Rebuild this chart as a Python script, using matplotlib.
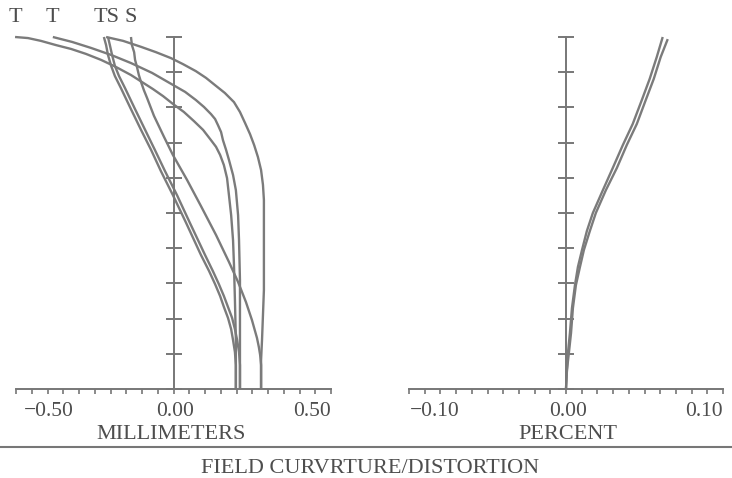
import matplotlib
matplotlib.use("Agg")
import matplotlib.pyplot as plt
from matplotlib.transforms import offset_copy
from matplotlib.lines import Line2D
import numpy as np

# ---------------- data ----------------
# Field curvature, millimeters (x) vs. relative field (y), top -> bottom
ta_x = [-0.503, -0.462, -0.421, -0.373, -0.325, -0.278, -0.230, -0.183, -0.135, -0.100, -0.065, -0.033,
        -0.002, 0.033, 0.065, 0.094, 0.119, 0.135, 0.148, 0.160, 0.170, 0.176, 0.183, 0.189, 0.192, 0.195,
        0.198, 0.198]
ta_y = [1.000, 0.997, 0.989, 0.977, 0.966, 0.952, 0.935, 0.915, 0.892, 0.872, 0.852, 0.832,
        0.810, 0.787, 0.761, 0.736, 0.707, 0.688, 0.665, 0.636, 0.599, 0.551, 0.494, 0.423, 0.352, 0.253,
        0.139, 0.000]

tb_x = [-0.383, -0.322, -0.262, -0.198, -0.135, -0.068, -0.002, 0.037, 0.071, 0.097, 0.119, 0.132,
        0.141, 0.151, 0.157, 0.167, 0.176, 0.189, 0.198, 0.205, 0.208, 0.211, 0.211]
tb_y = [1.000, 0.986, 0.969, 0.949, 0.926, 0.898, 0.864, 0.844, 0.821, 0.801, 0.781, 0.767,
        0.750, 0.730, 0.707, 0.679, 0.651, 0.608, 0.565, 0.494, 0.423, 0.310, 0.000]

tc_x = [-0.214, -0.160, -0.103, -0.056, -0.008, 0.030, 0.071, 0.103, 0.135, 0.163, 0.192, 0.211,
        0.227, 0.243, 0.256, 0.268, 0.278, 0.284, 0.287, 0.287, 0.287, 0.287, 0.284, 0.281, 0.278, 0.278]
tc_y = [1.000, 0.989, 0.972, 0.957, 0.940, 0.923, 0.903, 0.884, 0.861, 0.841, 0.815, 0.787,
        0.756, 0.724, 0.693, 0.659, 0.622, 0.580, 0.537, 0.480, 0.366, 0.281, 0.210, 0.139, 0.082, 0.000]

sa_x = [-0.221, -0.214, -0.208, -0.198, -0.186, -0.167, -0.135, -0.103, -0.071, -0.040, -0.002, 0.040,
        0.087, 0.113, 0.132, 0.148, 0.160, 0.173, 0.183, 0.189, 0.195, 0.198, 0.198]
sa_y = [1.000, 0.977, 0.949, 0.918, 0.889, 0.855, 0.795, 0.736, 0.679, 0.619, 0.551, 0.472,
        0.381, 0.335, 0.298, 0.264, 0.233, 0.202, 0.170, 0.139, 0.105, 0.068, 0.000]

sb_x = [-0.208, -0.202, -0.195, -0.186, -0.173, -0.154, -0.122, -0.090, -0.059, -0.027, 0.011, 0.052,
        0.100, 0.125, 0.144, 0.160, 0.173, 0.186, 0.195, 0.202, 0.208, 0.211, 0.211]
sb_y = [1.000, 0.977, 0.949, 0.918, 0.889, 0.855, 0.795, 0.736, 0.679, 0.619, 0.551, 0.472,
        0.381, 0.335, 0.298, 0.264, 0.233, 0.202, 0.170, 0.139, 0.105, 0.068, 0.000]

sc_x = [-0.135, -0.132, -0.125, -0.122, -0.116, -0.110, -0.103, -0.094, -0.084, -0.062, -0.030, -0.002,
        0.043, 0.087, 0.135, 0.176, 0.205, 0.230, 0.249, 0.265, 0.271, 0.275, 0.278, 0.278]
sc_y = [1.000, 0.977, 0.957, 0.935, 0.915, 0.892, 0.872, 0.849, 0.827, 0.776, 0.716, 0.665,
        0.594, 0.520, 0.4375, 0.361, 0.304, 0.247, 0.196, 0.145, 0.119, 0.097, 0.068, 0.000]

# Distortion, percent (x) vs. relative field (y)
d1_x = [0.0, 0.0006, 0.0013, 0.0025, 0.0038, 0.0057, 0.0076, 0.0102, 0.0133, 0.0171, 0.0235, 0.0298,
        0.0362, 0.0425, 0.0483, 0.0533, 0.0578, 0.0616]
d1_y = [0.0, 0.054, 0.105, 0.159, 0.230, 0.295, 0.347, 0.395, 0.449, 0.500, 0.565, 0.628,
        0.693, 0.753, 0.821, 0.881, 0.943, 1.000]
d2_x = [0.0, 0.0006, 0.0019, 0.0032, 0.0044, 0.0063, 0.0089, 0.0114, 0.0152, 0.0190, 0.0254, 0.0324,
        0.0387, 0.0451, 0.0508, 0.0559, 0.0603, 0.0648]
d2_y = [0.0, 0.054, 0.105, 0.159, 0.230, 0.295, 0.347, 0.395, 0.449, 0.500, 0.565, 0.628,
        0.693, 0.753, 0.821, 0.881, 0.943, 0.994]

fc_ticklabels = ["\u22120.50", "0.00", "0.50"]
fc_tickvals = [-0.50, 0.00, 0.50]
dist_ticklabels = ["\u22120.10", "0.00", "0.10"]
dist_tickvals = [-0.10, 0.00, 0.10]
top_labels = ["T", "T", "TS", "S"]
fc_xlabel = "MILLIMETERS"
dist_xlabel = "PERCENT"
title = "FIELD CURVRTURE/DISTORTION"

# ---------------- style ----------------
plt.rcParams["font.family"] = ["Liberation Serif", "DejaVu Serif"]
line_c = "#7b7b7b"
axis_c = "#777777"
text_c = "#4e4e4e"
W, H = 732, 478

fig = plt.figure(figsize=(W / 100, H / 100), dpi=100)
fig.patch.set_facecolor("white")

ax1 = fig.add_axes([16 / W, 89 / H, 315 / W, 352 / H])
ax2 = fig.add_axes([409 / W, 89 / H, 314 / W, 352 / H])


def style_axis(ax, xlim, step):
    ax.set_xlim(*xlim)
    ax.set_ylim(0, 1)
    ax.patch.set_alpha(0)
    for s in ["top", "right"]:
        ax.spines[s].set_visible(False)
    ax.spines["left"].set_position(("data", 0))
    ax.spines["left"].set_bounds(0, 1)
    ax.spines["bottom"].set_bounds(*xlim)
    for s in ["left", "bottom"]:
        ax.spines[s].set_color(axis_c)
        ax.spines[s].set_linewidth(1.4)
    ax.set_yticks(np.linspace(0, 1, 11))
    n = int(round((xlim[1] - xlim[0]) / step))
    ax.set_xticks(np.linspace(xlim[0], xlim[1], n + 1))
    ax.tick_params(axis="y", direction="inout", length=11, width=1.4,
                   colors=axis_c, labelleft=False)
    ax.tick_params(axis="x", direction="out", length=3.8, width=1.2,
                   colors=axis_c, labelbottom=False)


style_axis(ax1, (-0.5, 0.5), 0.05)
style_axis(ax2, (-0.1, 0.1), 0.01)

lw = 1.7
for xs, ys in [(ta_x, ta_y), (tb_x, tb_y), (tc_x, tc_y),
               (sa_x, sa_y), (sb_x, sb_y), (sc_x, sc_y)]:
    ax1.plot(xs, ys, color=line_c, lw=lw, clip_on=False,
             solid_capstyle="butt", solid_joinstyle="round")
for xs, ys in [(d1_x, d1_y), (d2_x, d2_y)]:
    ax2.plot(xs, ys, color=line_c, lw=lw, clip_on=False,
             solid_capstyle="butt", solid_joinstyle="round")

# tick labels
tick_fs = 15.5
for ax, vals, labs, lead in [(ax1, fc_tickvals, fc_ticklabels, 8),
                             (ax2, dist_tickvals, dist_ticklabels, 1)]:
    has = ["left", "center", "right"]
    dxs = [lead, 2, 0]
    for v, lab, ha, dx in zip(vals, labs, has, dxs):
        tr = offset_copy(ax.transData, fig=fig, x=dx, y=-27, units="dots")
        ax.text(v, 0, lab, transform=tr, ha=ha, va="baseline",
                fontsize=tick_fs, color=text_c)

# axis titles
for ax, lab, dx in [(ax1, fc_xlabel, -2), (ax2, dist_xlabel, 2)]:
    tr = offset_copy(ax.transData, fig=fig, x=dx, y=-50, units="dots")
    ax.text(0, 0, lab, transform=tr, ha="center", va="baseline",
            fontsize=16, color=text_c)

# curve labels at the top
label_x = [ta_x[0], tb_x[0], tc_x[0], sc_x[0]]
tr = offset_copy(ax1.transData, fig=fig, x=0, y=15, units="dots")
for lx, lab in zip(label_x, top_labels):
    ax1.text(lx, 1.0, lab, transform=tr, ha="center", va="baseline",
             fontsize=16, color=text_c)

# separator line and bottom title
fig.add_artist(Line2D([0, 1], [1 - 447 / H, 1 - 447 / H],
                      transform=fig.transFigure, color=axis_c, lw=1.5))
fig.text(370 / W, 1 - 473 / H, title, ha="center", va="baseline",
         fontsize=16, color=text_c)

fig.savefig("out.png", dpi=100, facecolor="white")
